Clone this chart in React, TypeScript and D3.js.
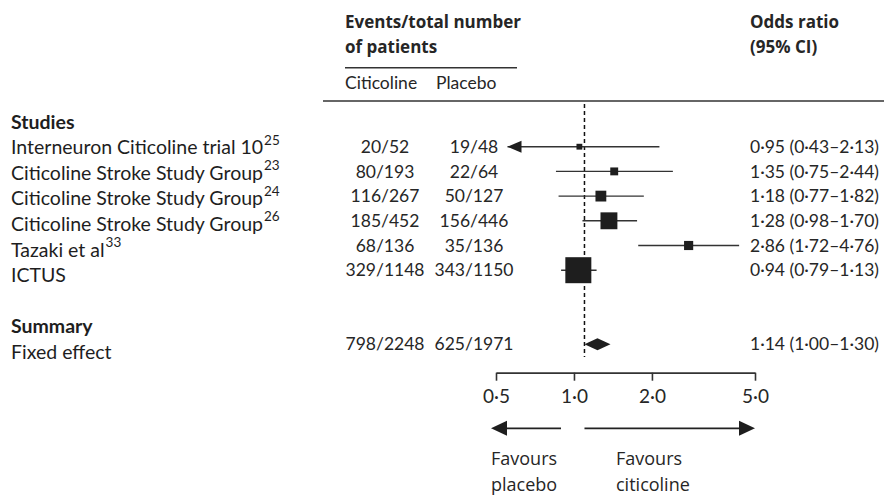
import React, { useEffect, useRef } from 'react';
import * as d3 from 'd3';

// study rows
const studies = [
  'Interneuron Citicoline trial 10',
  'Citicoline Stroke Study Group',
  'Citicoline Stroke Study Group',
  'Citicoline Stroke Study Group',
  'Tazaki et al',
  'ICTUS',
];
const refs = ['25', '23', '24', '26', '33', ''];
const citicoline = ['20/52', '80/193', '116/267', '185/452', '68/136', '329/1148'];
const placebo = ['19/48', '22/64', '50/127', '156/446', '35/136', '343/1150'];
const oddsRatio = [0.95, 1.35, 1.18, 1.28, 2.86, 0.94];
const ciLow = [0.43, 0.75, 0.77, 0.98, 1.72, 0.79];
const ciHigh = [2.13, 2.44, 1.82, 1.7, 4.76, 1.13];

// summary row
const summaryLabel = 'Fixed effect';
const summaryCiticoline = '798/2248';
const summaryPlacebo = '625/1971';
const summaryOR = 1.14;
const summaryLow = 1.0;
const summaryHigh = 1.3;

const axisTicks = [0.5, 1, 2, 5];

const W = 884;
const H = 498;
const FONT = 'Lato, "Open Sans", sans-serif';
const HEAD_FONT = '"Open Sans", Lato, sans-serif';
const INK = '#1e1e1e';
const TEXT = '#262626';

const dot = (s: string) => s.replace(/\./g, '\u00b7');
const fmt2 = d3.format('.2f');
const fmt1 = d3.format('.1f');
const orText = (m: number, lo: number, hi: number) =>
  dot(`${fmt2(m)} (${fmt2(lo)}\u2013${fmt2(hi)})`);

// inverse variance weight from the CI width
const weights = ciLow.map((lo, i) => {
  const se = (Math.log(ciHigh[i]) - Math.log(lo)) / (2 * 1.96);
  return 1 / (se * se);
});

export default function App() {
  const axisRef = useRef<SVGGElement>(null);

  // rows: 0 = "Studies", 1..6 studies, 8 = "Summary", 9 = fixed effect
  const rowIds = d3.range(10);
  const yLabel = d3.scalePoint<number>().domain(rowIds).range([121.7, 352.1]);
  const yData = d3.scalePoint<number>().domain(rowIds).range([122, 344.3]);

  // effect scale for the marks
  const x = d3.scaleLog().domain([0.46, 5]).range([507.5, 744]);
  // printed axis
  const xAxis = d3.scaleLog().domain([0.5, 5]).range([496, 755]);
  const size = d3.scaleSqrt().domain([0, d3.max(weights) as number]).range([0, 26]);

  const axisY = 372.7;

  useEffect(() => {
    const g = d3.select(axisRef.current);
    g.selectAll('*').remove();
    g.call(
      d3.axisBottom(xAxis)
        .tickValues(axisTicks)
        .tickSize(8)
        .tickSizeOuter(0)
        .tickPadding(9)
        .tickFormat((d) => dot(fmt1(d as number)))
    );
    g.select('.domain').attr('stroke', '#333').attr('stroke-width', 1.7);
    g.selectAll('.tick line').attr('stroke', '#333').attr('stroke-width', 1.6);
    g.selectAll('.tick text')
      .attr('fill', TEXT)
      .style('font-family', FONT)
      .style('font-size', '19px');
  }, []);

  const arrowHead = (tipX: number, y: number, dir: number, len: number, half: number) =>
    `M${tipX},${y} L${tipX - dir * len},${y - half} L${tipX - dir * len},${y + half} Z`;

  const arrowY = 428.3;

  return (
    <svg width={W} height={H} style={{ position: 'absolute', left: 0, top: 0, background: '#fff' }}>
      {/* column headers */}
      <g fontFamily={HEAD_FONT} fill={TEXT} fontWeight="bold" fontSize={17}>
        <text x={345} y={21.7} dy="0.35em">Events/total number</text>
        <text x={345} y={47} dy="0.35em">of patients</text>
        <text x={750} y={21.7} dy="0.35em">Odds ratio</text>
        <text x={750} y={47} dy="0.35em">(95% CI)</text>
      </g>
      <line x1={345} x2={517} y1={67.7} y2={67.7} stroke="#333" strokeWidth={1.6} />
      <g fontFamily={FONT} fill={TEXT} fontSize={17.5}>
        <text x={345} y={83.3} dy="0.35em">Citicoline</text>
        <text x={436} y={83.3} dy="0.35em">Placebo</text>
      </g>
      <line x1={323} x2={884} y1={101} y2={101} stroke="#333" strokeWidth={1.6} />

      {/* left labels */}
      <g fontFamily={FONT} fill={INK} fontSize={19.5}>
        <text x={11} y={yLabel(0)} dy="0.35em" fontWeight="bold">Studies</text>
        {studies.map((s, i) => (
          <text key={i} x={11} y={yLabel(i + 1)} dy="0.35em">
            {s}
            {refs[i] && (
              <tspan fontSize={13.5} dy="-0.7em" dx="1">{refs[i]}</tspan>
            )}
          </text>
        ))}
        <text x={11} y={yLabel(8)} dy="0.35em" fontWeight="bold">Summary</text>
        <text x={11} y={yLabel(9)} dy="0.35em">{summaryLabel}</text>
      </g>

      {/* event counts */}
      <g fontFamily={FONT} fill={TEXT} fontSize={17.5} textAnchor="middle">
        {citicoline.map((c, i) => (
          <text key={'c' + i} x={385} y={yData(i + 1)} dy="0.35em">{c}</text>
        ))}
        {placebo.map((p, i) => (
          <text key={'p' + i} x={474} y={yData(i + 1)} dy="0.35em">{p}</text>
        ))}
        <text x={385} y={yData(9)} dy="0.35em">{summaryCiticoline}</text>
        <text x={474} y={yData(9)} dy="0.35em">{summaryPlacebo}</text>
      </g>

      {/* odds ratios */}
      <g fontFamily={FONT} fill={TEXT} fontSize={17.5}>
        {oddsRatio.map((m, i) => (
          <text key={i} x={750} y={yData(i + 1)} dy="0.35em">{orText(m, ciLow[i], ciHigh[i])}</text>
        ))}
        <text x={750} y={yData(9)} dy="0.35em">{orText(summaryOR, summaryLow, summaryHigh)}</text>
      </g>

      {/* line of no effect */}
      <line x1={x(1)} x2={x(1)} y1={104} y2={357} stroke="#111" strokeWidth={1.5} strokeDasharray="4,3" />

      {/* study marks */}
      {oddsRatio.map((m, i) => {
        const y = yData(i + 1) as number;
        const clipped = ciLow[i] < x.domain()[0];
        const lo = clipped ? x.range()[0] : x(ciLow[i]);
        const s = size(weights[i]);
        return (
          <g key={i}>
            <line x1={lo} x2={x(ciHigh[i])} y1={y} y2={y} stroke="#333" strokeWidth={1.4} />
            {clipped && <path d={arrowHead(lo, y, -1, 14, 6)} fill={INK} />}
            <rect x={x(m) - s / 2} y={y - s / 2} width={s} height={s} fill={INK} />
          </g>
        );
      })}

      {/* summary diamond */}
      <path
        d={`M${x(summaryLow)},${yData(9)} L${x(summaryOR)},${(yData(9) as number) - 6} L${x(summaryHigh)},${yData(9)} L${x(summaryOR)},${(yData(9) as number) + 6} Z`}
        fill={INK}
      />

      {/* axis */}
      <g ref={axisRef} transform={`translate(0,${axisY})`} />

      {/* favours arrows */}
      <line x1={xAxis(0.5) + 8} x2={561} y1={arrowY} y2={arrowY} stroke="#222" strokeWidth={1.8} />
      <path d={arrowHead(xAxis(0.5) - 5, arrowY, -1, 16, 7.5)} fill={INK} />
      <line x1={x(1)} x2={xAxis(5) - 8} y1={arrowY} y2={arrowY} stroke="#222" strokeWidth={1.8} />
      <path d={arrowHead(xAxis(5), arrowY, 1, 16, 7.5)} fill={INK} />

      <g fontFamily={HEAD_FONT} fill={TEXT} fontSize={18}>
        <text x={491} y={458.3} dy="0.35em">Favours</text>
        <text x={491} y={485} dy="0.35em">placebo</text>
        <text x={616} y={458.3} dy="0.35em">Favours</text>
        <text x={616} y={485} dy="0.35em">citicoline</text>
      </g>
    </svg>
  );
}
